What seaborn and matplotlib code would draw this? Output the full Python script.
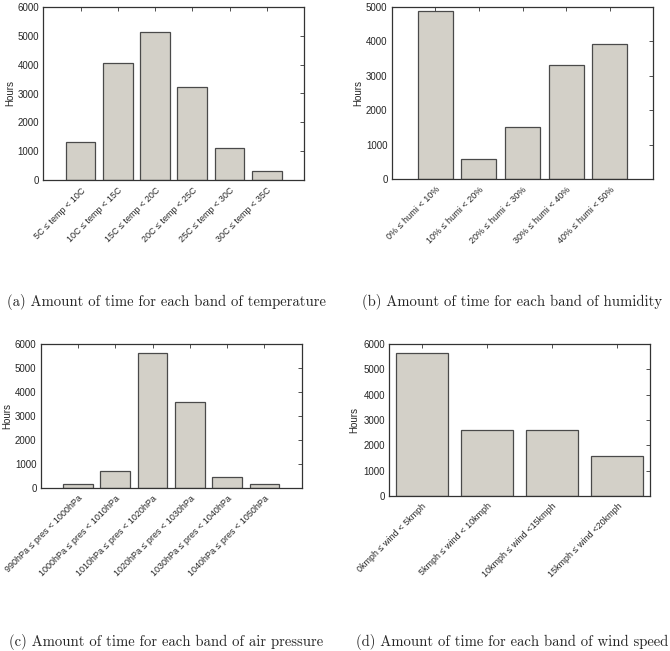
import matplotlib
matplotlib.use("Agg")
import matplotlib.pyplot as plt
import seaborn as sns
import pandas as pd

sns.set_theme(style="white")
plt.rcParams['font.family'] = ['Liberation Sans', 'DejaVu Sans']

temp_labels = ["5C ≤ temp < 10C", "10C ≤ temp < 15C", "15C ≤ temp < 20C",
               "20C ≤ temp < 25C", "25C ≤ temp < 30C", "30C ≤ temp < 35C"]
temp_hours = [1340, 4050, 5140, 3210, 1105, 335]

humi_labels = ["0% ≤ humi < 10%", "10% ≤ humi < 20%", "20% ≤ humi < 30%",
               "30% ≤ humi < 40%", "40% ≤ humi < 50%"]
humi_hours = [4880, 575, 1520, 3310, 3930]

pres_labels = ["990hPa ≤ pres < 1000hPa", "1000hPa ≤ pres < 1010hPa",
               "1010hPa ≤ pres < 1020hPa", "1020hPa ≤ pres < 1030hPa",
               "1030hPa ≤ pres < 1040hPa", "1040hPa ≤ pres < 1050hPa"]
pres_hours = [175, 735, 5630, 3575, 460, 165]

wind_labels = ["0kmph ≤ wind < 5kmph", "5kmph ≤ wind < 10kmph",
               "10kmph ≤ wind <15kmph", "15kmph ≤ wind <20kmph"]
wind_hours = [5655, 2595, 2615, 1570]

yticks_a = [0, 1000, 2000, 3000, 4000, 5000, 6000]
yticks_b = [0, 1000, 2000, 3000, 4000, 5000]

captions = ["(a) Amount of time for each band of temperature",
            "(b) Amount of time for each band of humidity",
            "(c) Amount of time for each band of air pressure",
            "(d) Amount of time for each band of wind speed"]

W, H = 670, 651
fig = plt.figure(figsize=(W / 100, H / 100), dpi=100)

def ax_at(l, r, t, b):
    return fig.add_axes([l / W, 1 - b / H, (r - l) / W, (b - t) / H])

# (axes, labels, values, yticks, ymax, wide xlim, ylabel centre x in px)
panels = [
    (ax_at(43.3, 304, 6.7, 180.3), temp_labels, temp_hours, yticks_a, 6000, True, 11, 43.3, 304),
    (ax_at(391.7, 653.3, 6.7, 179), humi_labels, humi_hours, yticks_b, 5000, True, 359, 391.7, 653.3),
    (ax_at(40.7, 301.7, 344, 488.3), pres_labels, pres_hours, yticks_a, 6000, True, 8, 40.7, 301.7),
    (ax_at(389, 650, 344, 496), wind_labels, wind_hours, yticks_a, 6000, False, 355, 389, 650),
]

for ax, labels, vals, yt, ymax, wide, lx, l, r in panels:
    df = pd.DataFrame({"band": labels, "Hours": vals})
    sns.barplot(data=df, x="band", y="Hours", ax=ax, color="#d3d0c8",
                edgecolor="#4a4a4a", linewidth=0.9, width=0.8, saturation=1)
    n = len(labels)
    if wide:
        ax.set_xlim(-1, n)
    else:
        ax.set_xlim(-0.5, n - 0.5)
    ax.set_ylim(0, ymax)
    ax.set_yticks(yt)
    ax.set_xlabel("")
    ax.set_ylabel("Hours", fontsize=7)
    ax.yaxis.set_label_coords((lx + 4 - l) / (r - l), 0.5)
    ax.set_xticks(range(n))
    ax.set_xticklabels(labels, rotation=45, ha="right", rotation_mode="anchor", fontsize=6.5)
    ax.tick_params(axis="both", direction="in", top=True, right=True, length=3,
                   width=0.6, color="#333333", labelsize=7, pad=3)
    ax.tick_params(axis="x", labelsize=6.5, pad=4)
    for s in ax.spines.values():
        s.set_visible(True)
        s.set_color("#333333")
        s.set_linewidth(0.9)

cap_pos = [(166, 302), (512, 302), (166, 642), (512, 642)]
for (x, y), c in zip(cap_pos, captions):
    fig.text(x / W, 1 - y / H, c, fontsize=10.6, family=["cmr10", "DejaVu Serif"],
             va="center", ha="center")

fig.savefig("out.png", dpi=100)
